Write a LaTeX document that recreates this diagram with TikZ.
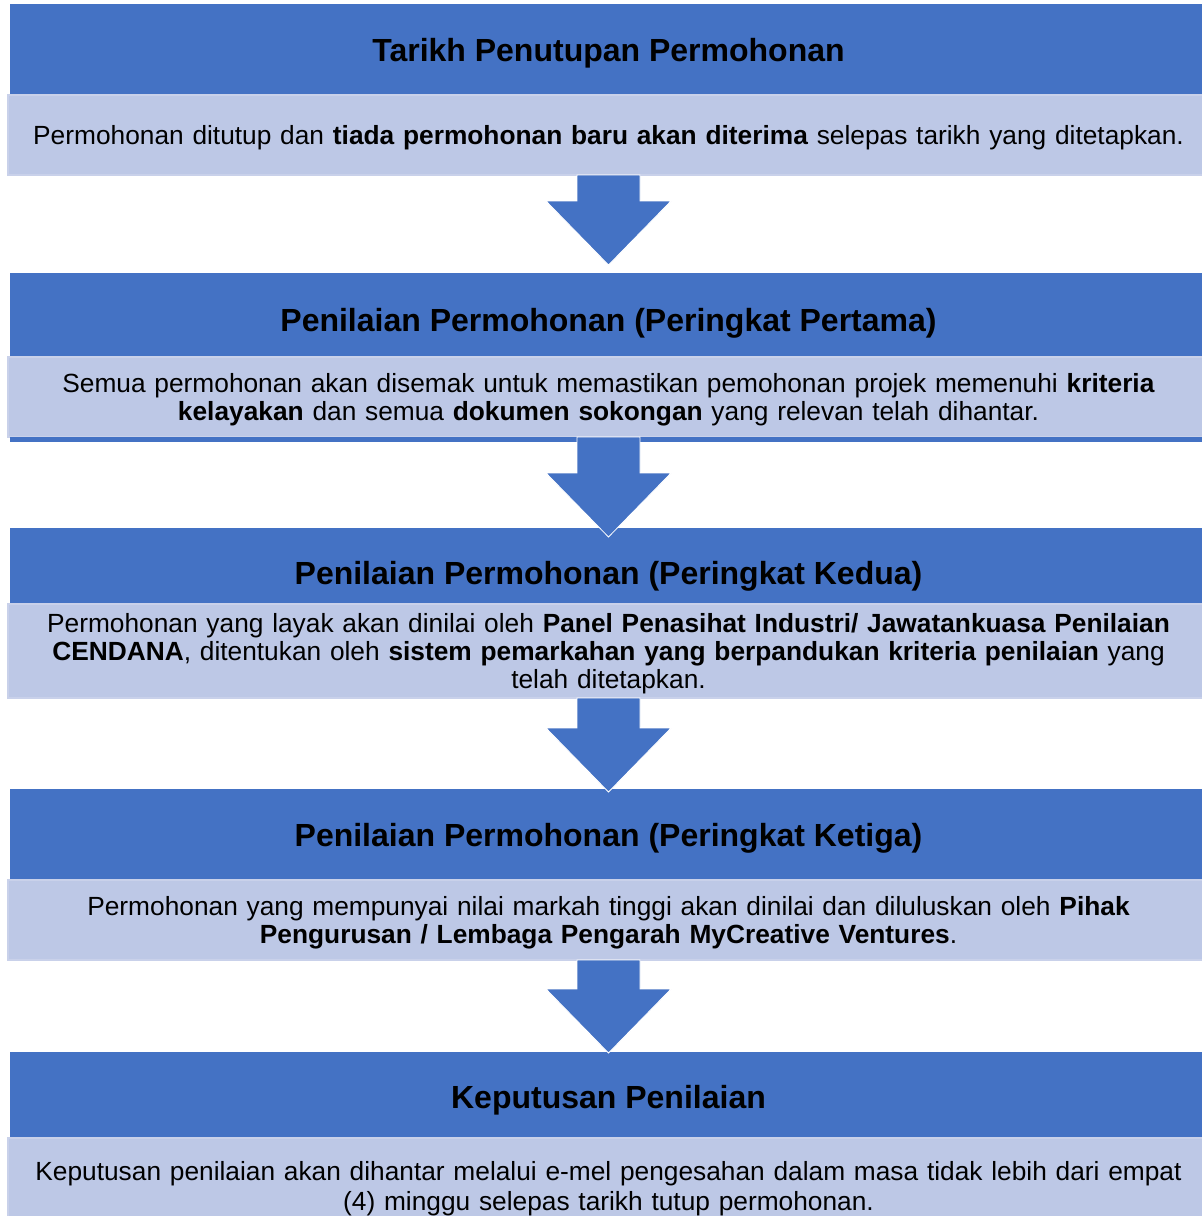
\documentclass[tikz,border=0pt]{standalone}
\usepackage{fontspec}
\setmainfont{Liberation Sans}
\usetikzlibrary{positioning,calc}
\definecolor{hdrblue}{HTML}{4472C4}
\definecolor{bodyblue}{HTML}{BDC8E6}
\definecolor{bodyedge}{HTML}{C9D1EA}
\begin{document}
\begin{tikzpicture}[x=0.5pt,y=-0.5pt,
    hdr/.style={rectangle,fill=hdrblue,minimum width=598.5pt,inner sep=0pt,outer sep=0pt,
        font=\fontsize{16}{18}\selectfont\bfseries,align=center,text depth=0pt},
    bodybox/.style={rectangle,fill=bodyblue,draw=bodyedge,line width=0.8pt,minimum width=600.5pt,
        text width=598pt,inner sep=0pt,outer sep=0pt,font=\fontsize{13.15}{14}\selectfont,align=center},
    blockarrow/.style={fill=hdrblue,draw=white,line width=0.4pt}]
    \useasboundingbox (0,0) rectangle (1201,1216);
    \fill[white] (0,0) rectangle (1201,1216);

    \node[hdr,minimum height=45.5pt,text height=12pt] (h1) at (608.5,49.5) {Tarikh Penutupan Permohonan};
    \node[bodybox,minimum height=40pt,text depth=0pt,below=0pt of h1] (b1)
        {Permohonan ditutup dan \textbf{tiada permohonan baru akan diterima} selepas tarikh yang ditetapkan.};

    \node[hdr,minimum height=42pt,text height=16.5pt,below=49pt of b1] (h2) {Penilaian Permohonan (Peringkat Pertama)};
    \node[bodybox,minimum height=40pt,text depth=14pt,below=0pt of h2] (b2)
        {Semua permohonan akan disemak untuk memastikan pemohonan projek memenuhi \textbf{kriteria}\\
         \textbf{kelayakan} dan semua \textbf{dokumen sokongan} yang relevan telah dihantar.};
    \fill[hdrblue] ($(b2.south west)+(2,0)$) rectangle ($(b2.south east)+(-2,5)$);

    \node[hdr,minimum height=38pt,text height=18.5pt,below=45.5pt of b2] (h3) {Penilaian Permohonan (Peringkat Kedua)};
    \node[bodybox,minimum height=47pt,text depth=28pt,below=0pt of h3] (b3)
        {Permohonan yang layak akan dinilai oleh \textbf{Panel Penasihat Industri/ Jawatankuasa Penilaian}\\
         \textbf{CENDANA}, ditentukan oleh \textbf{sistem pemarkahan yang berpandukan kriteria penilaian} yang\\
         telah ditetapkan.};

    \node[hdr,minimum height=45.5pt,text height=12pt,below=45.5pt of b3] (h4) {Penilaian Permohonan (Peringkat Ketiga)};
    \node[bodybox,minimum height=40pt,text depth=14pt,below=0pt of h4] (b4)
        {Permohonan yang mempunyai nilai markah tinggi akan dinilai dan diluluskan oleh \textbf{Pihak}\\
         \textbf{Pengurusan / Lembaga Pengarah MyCreative Ventures}.};

    \node[hdr,minimum height=43pt,text height=13.5pt,below=46pt of b4] (h5) {Keputusan Penilaian};
    \node[bodybox,minimum height=48pt,text depth=15pt,below=0pt of h5,font=\fontsize{13.15}{15}\selectfont] (b5)
        {Keputusan penilaian akan dihantar melalui e-mel pengesahan dalam masa tidak lebih dari empat\\
         (4) minggu selepas tarikh tutup permohonan.};

    % block arrows between the stages
    \foreach \from/\to/\dip in {b1/h2/-8,b2/h3/9,b3/h4/3,b4/h5/1}{
        \coordinate (tip) at ($(\to.north)+(0,\dip)$);
        \coordinate (sh) at ($(tip)+(0,-64)$);
        \filldraw[blockarrow] ($(\from.south)+(-31.5,0)$) -- ($(\from.south)+(31.5,0)$)
            -- ($(sh)+(31.5,0)$) -- ($(sh)+(62.5,0)$) -- (tip) -- ($(sh)+(-62.5,0)$)
            -- ($(sh)+(-31.5,0)$) -- cycle;
    }
\end{tikzpicture}
\end{document}
